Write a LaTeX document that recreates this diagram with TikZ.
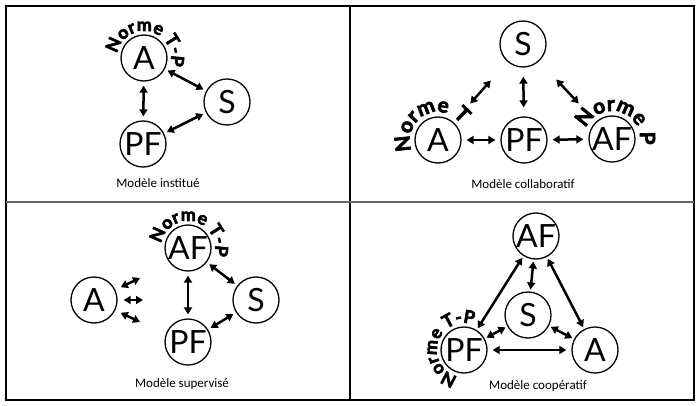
\documentclass[tikz,border=0pt]{standalone}
\usepackage{fontspec}
\setmainfont{Lato}
\newfontfamily\legendefont{Carlito}
\newfontfamily\normefam{Lato}[BoldFeatures={FakeBold=3}]
\usetikzlibrary{arrows.meta,decorations.text}

\newcommand{\lettres}{\fontsize{32}{32}\selectfont}
\newcommand{\normepetit}{\normefam\bfseries\fontsize{18}{18}\selectfont}
\newcommand{\normegrand}{\normefam\bfseries\fontsize{21}{21}\selectfont}

\tikzset{
  sommet/.style={draw, circle, line width=1.3pt, minimum size=46pt, inner sep=0pt, font=\lettres},
  lien/.style={{Triangle[length=7pt,width=8pt]}-{Triangle[length=7pt,width=8pt]}, line width=2.5pt, shorten <=3pt, shorten >=3pt},
  legende/.style={font=\legendefont\fontsize{13}{13}\selectfont},
  norme/.style={decorate, decoration={text along path, text align=center, text={#1}}},
}

\begin{document}
\begin{tikzpicture}[x=1pt,y=1pt]
\useasboundingbox (0,0) rectangle (700,-406);

%% cadre
\draw[line width=1.2pt] (6,-6) rectangle (694,-400);
\draw[line width=1.2pt] (350,-6) -- (350,-400);
\draw[line width=2.5pt, black!60] (6,-202) -- (694,-202);

%% modele institue
\node[sommet] (iA) at (144,-58) {A};
\node[sommet] (iS) at (227,-102) {S};
\node[sommet] (iPF) at (143,-144) {PF};
\node[legende] (iL) at (158,-183) {Modèle institué};
{\normepetit \path[norme={Norme T-P}] (iA) ++(190:27) arc (190:-36:27);}
\draw[lien] (iA) -- (iS);
\draw[lien, shorten <=4pt, shorten >=4pt] (iA) -- (iPF);
\draw[lien] (iS) -- (iPF);

%% modele collaboratif
\node[sommet] (cS) at (523,-44) {S};
\node[sommet] (cA) at (438,-140) {A};
\node[sommet] (cPF) at (524,-140) {PF};
\node[sommet] (cAF) at (612,-139) {AF};
\node[legende] (cL) at (523,-184) {Modèle collaboratif};
{\normegrand \path[norme={Norme T}] (cA) ++(215:28) arc (215:21:28);}
{\normegrand \path[norme={Norme P}] (cAF) ++(170:28) arc (170:-24:28);}
\draw[lien, shorten <=25pt, shorten >=25pt] (cS) -- (cA);
\draw[lien, shorten <=9pt, shorten >=9pt] (cS) -- (cPF);
\draw[lien, shorten <=25pt, shorten >=25pt] (cS) -- (cAF);
\draw[lien, shorten <=5pt, shorten >=5pt] (cA) -- (cPF);
\draw[lien, shorten <=5pt, shorten >=5pt] (cPF) -- (cAF);

%% modele supervise
\node[sommet] (sAF) at (188,-248) {AF};
\node[sommet] (sA) at (94,-300) {A};
\node[sommet] (sS) at (256,-300) {S};
\node[sommet] (sPF) at (188,-342) {PF};
\node[legende] (sL) at (182,-384) {Modèle supervisé};
{\normepetit \path[norme={Norme T-P}] (sAF) ++(190:27) arc (190:-36:27);}
\coordinate (sA1) at (140,-278);
\coordinate (sA2) at (143,-300);
\coordinate (sA3) at (140,-322);
\draw[lien, shorten <=6pt, shorten >=0pt] (sA) -- (sA1);
\draw[lien, shorten <=6pt, shorten >=0pt] (sA) -- (sA2);
\draw[lien, shorten <=6pt, shorten >=0pt] (sA) -- (sA3);
\draw[lien] (sAF) -- (sS);
\draw[lien, shorten <=4pt, shorten >=4pt] (sAF) -- (sPF);
\draw[lien] (sS) -- (sPF);

%% modele cooperatif
\node[sommet] (oAF) at (536,-236) {AF};
\node[sommet] (oS) at (528,-315) {S};
\node[sommet] (oPF) at (464,-350) {PF};
\node[sommet] (oA) at (595,-350) {A};
\node[legende] (oL) at (538,-386) {Modèle coopératif};
{\normepetit \path[norme={Norme T-P}] (oPF) ++(272:27) arc (272:54:27);}
\draw[lien, shorten <=2pt, shorten >=2pt] (oAF) -- (oS);
\draw[lien, shorten <=2pt, shorten >=2pt] (oAF) -- (oPF);
\draw[lien, shorten <=2pt, shorten >=2pt] (oAF) -- (oA);
\draw[lien, shorten <=2pt, shorten >=2pt] (oS) -- (oPF);
\draw[lien, shorten <=2pt, shorten >=2pt] (oS) -- (oA);
\draw[lien, shorten <=5pt, shorten >=5pt] (oPF) -- (oA);
\end{tikzpicture}
\end{document}
